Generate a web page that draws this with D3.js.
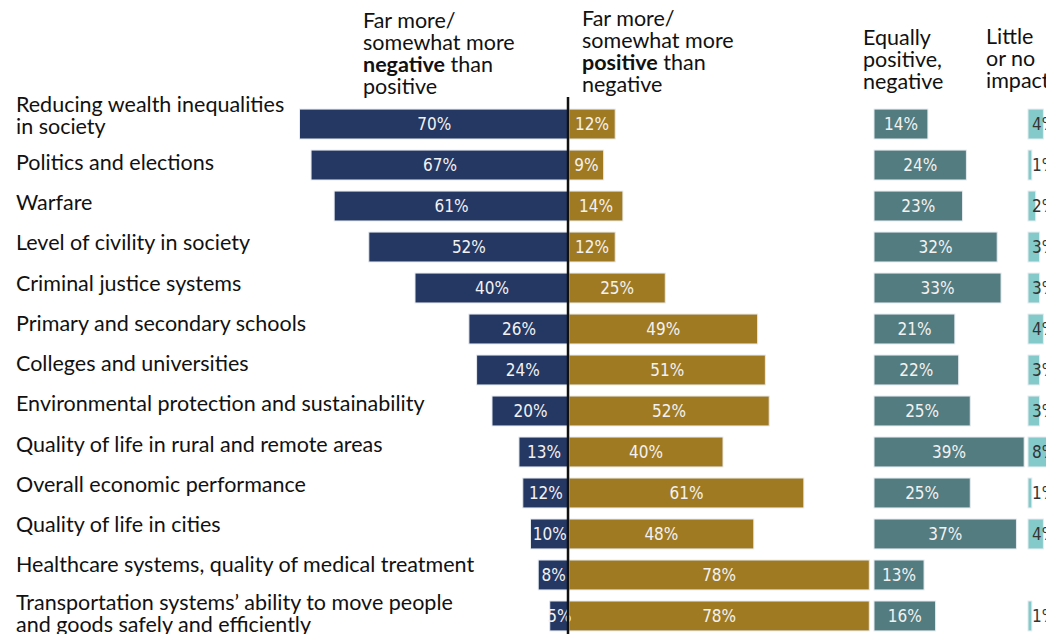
<!DOCTYPE html>
<html>
<head>
<meta charset="utf-8">
<script src="https://cdn.jsdelivr.net/npm/d3@7"></script>
<style>
  body { margin: 0; background: #fff; }
  svg { display: block; }
</style>
</head>
<body>
<div id="chart"></div>
<script>
// categories, top to bottom (\n = line break in label)
var categories = [
    "Reducing wealth inequalities\nin society",
    "Politics and elections",
    "Warfare",
    "Level of civility in society",
    "Criminal justice systems",
    "Primary and secondary schools",
    "Colleges and universities",
    "Environmental protection and sustainability",
    "Quality of life in rural and remote areas",
    "Overall economic performance",
    "Quality of life in cities",
    "Healthcare systems, quality of medical treatment",
    "Transportation systems\u2019 ability to move people\nand goods safely and efficiently"
];

var negative = [70, 67, 61, 52, 40, 26, 24, 20, 13, 12, 10, 8, 5];
var positive = [12, 9, 14, 12, 25, 49, 51, 52, 40, 61, 48, 78, 78];
var equally  = [14, 24, 23, 32, 33, 21, 22, 25, 39, 25, 37, 13, 16];
var little   = [4, 1, 2, 3, 3, 4, 3, 3, 8, 1, 4, null, 1];

var width = 1046, height = 634;

var svg = d3.select("#chart")
    .append("svg")
    .attr("width", width)
    .attr("height", height)
    .style("background-color", "#fff");

// percent -> pixels
var x = d3.scaleLinear().domain([0, 100]).range([0, 385]);

var y = d3.scaleBand()
    .domain(d3.range(categories.length))
    .range([98, 642])
    .padding(0.27);

var center = 569;     // zero line
var eqStart = 874;    // "equally" column origin
var litStart = 1028;  // "little or no impact" column origin

var barFont = "'Liberation Sans Narrow', 'DejaVu Sans Condensed', sans-serif";
var textFont = "Lato, 'Open Sans', sans-serif";

function drawColumn(values, x0, dir, fill, cls) {
    var rows = values.map(function (v, i) { return { v: v, i: i }; })
        .filter(function (d) { return d.v != null; });

    svg.selectAll("rect." + cls)
        .data(rows)
        .enter()
        .append("rect")
        .attr("class", cls)
        .attr("x", function (d) { return dir < 0 ? x0 - x(d.v) : x0; })
        .attr("y", function (d) { return y(d.i); })
        .attr("width", function (d) { return x(d.v); })
        .attr("height", y.bandwidth())
        .style("fill", fill)
        .style("stroke", "#e6ebf0")
        .style("stroke-width", 1);
    return rows;
}

var negRows = drawColumn(negative, center, -1, "#253763", "neg");
var posRows = drawColumn(positive, center, 1, "#a07a22", "pos");
var eqRows = drawColumn(equally, eqStart, 1, "#537c80", "eq");
var litRows = drawColumn(little, litStart, 1, "#85caca", "lit");

function centeredLabels(rows, x0, dir, cls) {
    svg.selectAll("text." + cls)
        .data(rows)
        .enter()
        .append("text")
        .attr("class", cls)
        .attr("x", function (d) { return x0 + dir * x(d.v) / 2; })
        .attr("y", function (d) { return y(d.i) + y.bandwidth() / 2; })
        .attr("dy", "0.36em")
        .attr("text-anchor", "middle")
        .style("font-family", barFont)
        .style("font-size", "17px")
        .style("fill", "#f2f2f2")
        .text(function (d) { return d.v + "%"; });
}

centeredLabels(negRows, center, -1, "negl");
centeredLabels(posRows, center, 1, "posl");
centeredLabels(eqRows, eqStart, 1, "eql");

// the last column's labels are clipped by the right edge in the source
svg.selectAll("text.litl")
    .data(litRows)
    .enter()
    .append("text")
    .attr("class", "litl")
    .attr("x", litStart + 4)
    .attr("y", function (d) { return y(d.i) + y.bandwidth() / 2; })
    .attr("dy", "0.36em")
    .style("font-family", barFont)
    .style("font-size", "17px")
    .style("fill", "#333")
    .text(function (d) { return d.v + "%"; });

// zero line
svg.append("line")
    .attr("x1", center - 1)
    .attr("x2", center - 1)
    .attr("y1", 97)
    .attr("y2", height)
    .style("stroke", "#111")
    .style("stroke-width", 2.5);

// category labels (drift slightly upward relative to bars, as in the source)
categories.forEach(function (c, i) {
    var lines = c.split("\n");
    var cy = y(i) + y.bandwidth() / 2 - 2 - 0.75 * i;
    // two-line labels sit a bit off-centre in the source
    if (lines.length > 1) cy += (i === 0 ? -7 : 9);
    var t = svg.append("text")
        .attr("x", 16)
        .style("font-family", textFont)
        .style("font-size", "21.5px")
        .style("fill", "#111");
    lines.forEach(function (l, k) {
        t.append("tspan")
            .attr("x", 16)
            .attr("y", cy + (k - (lines.length - 1) / 2) * 22)
            .attr("dy", "0.35em")
            .text(l);
    });
});

// column headers
function header(x0, y0, parts) {
    parts.forEach(function (line, k) {
        var t = svg.append("text")
            .attr("x", x0)
            .attr("y", y0 + k * 22)
            .style("font-family", textFont)
            .style("font-size", "21.5px")
            .style("fill", "#111");
        line.forEach(function (p) {
            t.append("tspan")
                .style("font-weight", p.b ? "bold" : "normal")
                .text(p.t);
        });
    });
}

header(363, 28, [[{ t: "Far more/" }], [{ t: "somewhat more" }], [{ t: "negative", b: true }, { t: " than" }], [{ t: "positive" }]]);
header(582, 26, [[{ t: "Far more/" }], [{ t: "somewhat more" }], [{ t: "positive", b: true }, { t: " than" }], [{ t: "negative" }]]);
header(863, 45, [[{ t: "Equally" }], [{ t: "positive," }], [{ t: "negative" }]]);
header(986, 44, [[{ t: "Little" }], [{ t: "or no" }], [{ t: "impact" }]]);
</script>
</body>
</html>
